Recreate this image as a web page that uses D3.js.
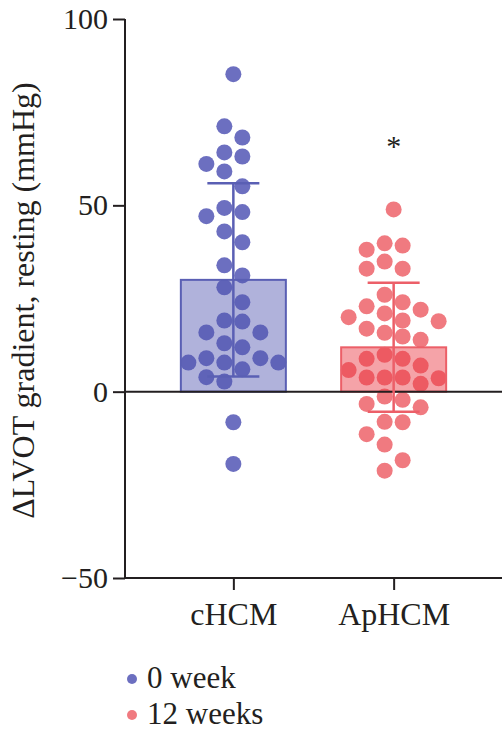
<!DOCTYPE html>
<html>
<head>
<meta charset="utf-8">
<script src="https://cdn.jsdelivr.net/npm/d3@7"></script>
<style>
  body { margin: 0; background: #fff; }
  svg text { font-family: "Liberation Serif", "DejaVu Serif", serif; fill: #231f20; }
</style>
</head>
<body>
<svg id="chart" width="502" height="735"></svg>
<script>
// dLVOT resting gradient -- cHCM vs ApHCM

var groups = ["cHCM", "ApHCM"];
var seriesNames = ["0 week", "12 weeks"];
var yTicks = [-50, 0, 50, 100];

// bar = mean, whiskers = SD
var means = [30.0, 11.9];
var sds = [25.9, 17.3];

// individual patients
var cHCMValues = [85.2, 71.2, 68.2, 64.2, 63.1, 61.1, 59.1, 55.1, 49.3, 48.2, 47.1,
  43.0, 40.1, 33.9, 31.2, 28.0, 24.0, 19.1, 18.8, 15.9, 15.9, 13.0, 11.9, 9.0, 9.0,
  7.8, 7.8, 7.8, 6.0, 3.9, 2.7, -8.2, -19.4];
var apHCMValues = [48.9, 39.8, 39.2, 38.1, 34.9, 33.0, 33.0, 26.0, 24.0, 22.9, 22.0,
  21.0, 20.0, 19.1, 18.9, 16.9, 15.8, 14.8, 13.9, 9.9, 8.8, 8.8, 7.0, 5.8, 3.8, 3.8,
  3.8, 3.6, 2.1, -1.3, -2.2, -3.3, -4.2, -8.1, -8.2, -11.4, -14.2, -18.4, -21.2];
var pointValues = [cHCMValues, apHCMValues];
var significance = ["", "*"];

var dotColors = ["#6c6fc0", "#f07a80"];
var barFills = ["rgba(80,84,175,0.45)", "rgba(233,51,62,0.45)"];
var lineColors = ["#5a5fb4", "#ec5f68"];
var ink = "#231f20";

var svg = d3.select("#chart");

var x = d3.scalePoint().domain(groups).range([125, 502]).padding(0.676);
var y = d3.scaleLinear().domain([-50, 100]).range([578, 19]);

var barWidth = 105;
var capHalf = 26;
var r = 8;
var step = 18;

// Prism-like scatter: dots sit in columns half a step off the centre,
// a lonely dot goes in the middle
var swarm = function (values) {
  var sorted = values.slice().sort(function (a, b) { return b - a; });
  var placed = [];
  var slots = [-0.5, 0.5, -1.5, 1.5, -2.5, 2.5, -3.5, 3.5];
  sorted.forEach(function (v) {
    var py = y(v);
    var near = sorted.filter(function (w) { return Math.abs(y(w) - py) < 2 * r; }).length;
    var dx = 0;
    if (near > 1) {
      for (var i = 0; i < slots.length; i++) {
        var cx = slots[i] * step;
        var hit = placed.some(function (p) {
          return Math.abs(p.dx - cx) < 2 * r && Math.abs(p.py - py) < 2 * r;
        });
        if (!hit) { dx = cx; break; }
      }
    }
    placed.push({ v: v, py: py, dx: dx });
  });
  return placed;
};

// y axis
var yAxis = d3.axisLeft(y).tickValues(yTicks).tickSize(12).tickPadding(5)
  .tickFormat(function (d) { return d < 0 ? "\u2212" + Math.abs(d) : d; });
var gy = svg.append("g").attr("transform", "translate(125,0)").call(yAxis);
gy.select(".domain").attr("d", "M0,19V578").attr("stroke", ink).attr("stroke-width", 2);
gy.selectAll(".tick line").attr("stroke", ink).attr("stroke-width", 2);
gy.selectAll(".tick text").style("font-size", "30px").attr("fill", ink);

// x axis at the bottom
var xAxis = d3.axisBottom(x).tickSize(12).tickPadding(12);
var gx = svg.append("g").attr("transform", "translate(0,578)").call(xAxis);
gx.select(".domain").attr("d", "M124,0H502").attr("stroke", ink).attr("stroke-width", 2);
gx.selectAll(".tick line").attr("stroke", ink).attr("stroke-width", 2);
gx.selectAll(".tick text").style("font-size", "32px").attr("fill", ink).attr("dy", "0.71em");

// y axis title
svg.append("text")
  .attr("transform", "translate(34," + ((y(100) + y(-50)) / 2 + 2) + ") rotate(-90)")
  .attr("text-anchor", "middle")
  .style("font-size", "32px")
  .text("\u0394LVOT gradient, resting (mmHg)");

// dots first, bars are see-through on top of them
groups.forEach(function (g, i) {
  svg.append("g").selectAll("circle")
    .data(swarm(pointValues[i]))
    .enter().append("circle")
    .attr("cx", function (p) { return x(g) + p.dx; })
    .attr("cy", function (p) { return p.py; })
    .attr("r", r)
    .attr("fill", dotColors[i]);
});

svg.append("g").selectAll("rect")
  .data(groups)
  .enter().append("rect")
  .attr("x", function (g) { return x(g) - barWidth / 2; })
  .attr("y", function (g, i) { return Math.min(y(means[i]), y(0)); })
  .attr("width", barWidth)
  .attr("height", function (g, i) { return Math.abs(y(0) - y(means[i])); })
  .attr("fill", function (g, i) { return barFills[i]; })
  .attr("stroke", function (g, i) { return lineColors[i]; })
  .attr("stroke-width", 2);

// zero line
svg.append("line")
  .attr("x1", 125).attr("x2", 502)
  .attr("y1", y(0)).attr("y2", y(0))
  .attr("stroke", ink).attr("stroke-width", 2);

// SD whiskers
var whiskers = svg.append("g").selectAll("g")
  .data(groups)
  .enter().append("g")
  .attr("stroke", function (g, i) { return lineColors[i]; })
  .attr("stroke-width", 2.5);
whiskers.append("line")
  .attr("x1", function (g) { return x(g); })
  .attr("x2", function (g) { return x(g); })
  .attr("y1", function (g, i) { return y(means[i] + sds[i]); })
  .attr("y2", function (g, i) { return y(means[i] - sds[i]); });
[1, -1].forEach(function (sign) {
  whiskers.append("line")
    .attr("x1", function (g) { return x(g) - capHalf; })
    .attr("x2", function (g) { return x(g) + capHalf; })
    .attr("y1", function (g, i) { return y(means[i] + sign * sds[i]); })
    .attr("y2", function (g, i) { return y(means[i] + sign * sds[i]); });
});

// significance mark
svg.append("g").selectAll("text")
  .data(groups)
  .enter().append("text")
  .attr("x", function (g) { return x(g); })
  .attr("y", 156)
  .attr("text-anchor", "middle")
  .style("font-size", "30px")
  .text(function (g, i) { return significance[i]; });

// legend
var legend = svg.append("g").selectAll("g")
  .data(seriesNames)
  .enter().append("g")
  .attr("transform", function (d, i) { return "translate(132," + (679 + i * 36) + ")"; });
legend.append("circle")
  .attr("r", 5)
  .attr("fill", function (d, i) { return dotColors[i]; });
legend.append("text")
  .attr("x", 15)
  .attr("y", 9)
  .style("font-size", "31px")
  .text(function (d) { return d; });
</script>
</body>
</html>
